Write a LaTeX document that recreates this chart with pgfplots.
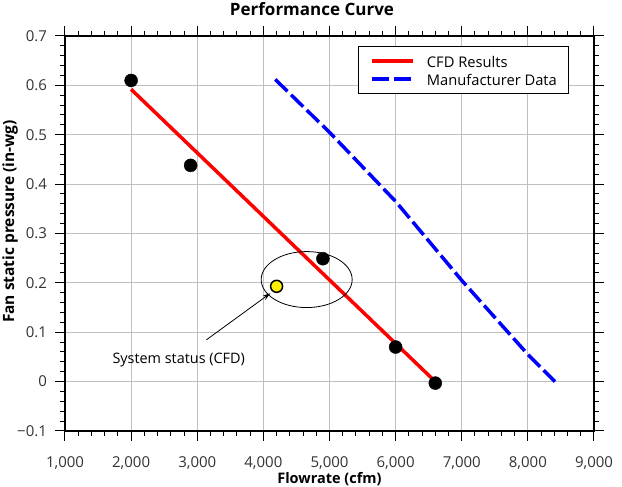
\documentclass[border=0pt]{standalone}
\usepackage{fontspec}
\setmainfont{Open Sans}
\usepackage{pgfplots}
\pgfplotsset{compat=1.18}
\usetikzlibrary{arrows.meta}
\begin{document}
\begin{tikzpicture}
\begin{axis}[
  scale only axis, width=529pt, height=395pt,
  at={(0pt,0pt)}, anchor=south west,
  xmin=1000, xmax=9000, ymin=-0.1, ymax=0.7,
  xtick={1000,2000,3000,4000,5000,6000,7000,8000,9000},
  ytick={-0.1,0,0.1,0.2,0.3,0.4,0.5,0.6,0.7},
  yticklabels={−0.1,0,0.1,0.2,0.3,0.4,0.5,0.6,0.7},
  minor tick num=4,
  tick align=outside,
  major tick length=10pt, minor tick length=5pt,
  every tick/.style={black, line width=1pt},
  grid=major, major grid style={gray!50, line width=0.8pt},
  axis line style={line width=1.2pt},
  /pgf/number format/assume math mode=true,
  scaled x ticks=false,
  xticklabel style={/pgf/number format/1000 sep={,}, yshift=-12pt},
  yticklabel style={xshift=-4.5pt},
  tick label style={font=\fontsize{15}{18}\selectfont, text=black!80},
  title={Performance Curve},
  every axis title/.style={at={(axis description cs:0.4669,1.05316)}, anchor=base,
    font=\bfseries\fontsize{17}{20}\selectfont, inner sep=0pt},
  xlabel={Flowrate (cfm)},
  every axis x label/.style={at={(axis description cs:0.5,-0.12152)}, anchor=center,
    font=\bfseries\fontsize{14.5}{17}\selectfont, inner sep=0pt},
  ylabel={Fan static pressure (in-wg)},
  every axis y label/.style={at={(axis description cs:-0.10397,0.5304)}, anchor=center, rotate=90,
    font=\bfseries\fontsize{15.5}{19}\selectfont, inner sep=0pt},
  legend style={at={(0.554,0.975)}, anchor=north west, draw=black, line width=0.8pt,
    font=\fontsize{14.7}{18}\selectfont, inner xsep=12pt, inner ysep=8pt, row sep=5.3pt,
    column sep=12pt,
    nodes={inner sep=0pt, text height=13pt, text depth=0pt}},
  legend cell align=left,
  legend image code/.code={\draw[#1] (0pt,0pt) -- (41pt,0pt);},
]
\addplot[only marks, mark=*, mark size=6.5pt, black, forget plot] coordinates {
  (2000,0.610) (2900,0.438) (4900,0.249) (6000,0.070) (6600,-0.003)};
\addplot[only marks, mark=*, mark size=6pt, draw=black, fill=yellow, line width=1.5pt, forget plot] coordinates {
  (4200,0.193)};
\addplot[red, line width=3.5pt] coordinates {(2000,0.592) (6600,0.0)};
\addlegendentry{CFD Results}
\addplot[blue, line width=3.5pt, dash pattern=on 17pt off 5pt] coordinates {
  (4180,0.612) (5000,0.505) (6000,0.365) (7000,0.205) (8000,0.055) (8410,0.0)};
\addlegendentry{Manufacturer Data}
\draw[line width=0.8pt] (axis cs:4655,0.2067) ellipse [x radius=45.5pt, y radius=28pt];
\draw[line width=0.8pt, -{Stealth[length=8pt,width=5pt]}] (axis cs:3138,0.0846) -- (axis cs:4106,0.179);
\node[font=\fontsize{14.4}{17}\selectfont] at (axis cs:2720,0.044) {System status (CFD)};
\end{axis}
\pgfresetboundingbox
\path (-65pt,-56pt) rectangle (557pt,431pt);
\end{tikzpicture}
\end{document}
